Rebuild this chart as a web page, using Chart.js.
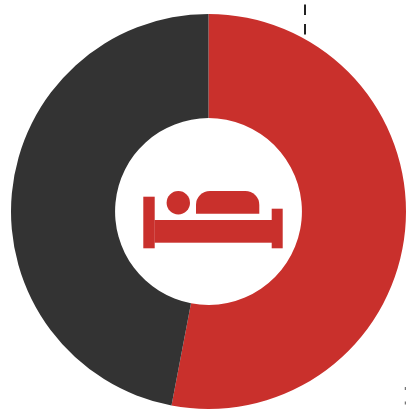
<!DOCTYPE html>
<html>
<head>
<meta charset="utf-8">
<style>
html, body { margin: 0; padding: 0; background: #fff; }
#wrap { position: relative; width: 406px; height: 410px; }
</style>
<script src="https://cdn.jsdelivr.net/npm/chart.js@4/dist/chart.umd.min.js"></script>
</head>
<body>
<div id="wrap"><canvas id="chart" width="406" height="410"></canvas></div>
<script>
const categories = ['Occupied', 'Vacant'];
const shares = [53, 47];
const sliceColours = ['#c9302c', '#333333'];
const iconColour = '#c9302c';

// Bed pictogram, drawn relative to the centre of the ring.
const bedIcon = {
  id: 'bedIcon',
  afterDatasetsDraw(chart) {
    const arc = chart.getDatasetMeta(0).data[0];
    const { x: cx, y: cy } = arc.getProps(['x', 'y'], true);
    const c = chart.ctx;
    c.save();
    c.translate(cx, cy);
    c.fillStyle = iconColour;
    c.fillRect(-65.2, -14.8, 11.4, 51.6);
    c.fillRect(63.2, -2.8, 11, 39.6);
    c.fillRect(-54, 8.5, 117.5, 22.7);
    c.beginPath();
    c.arc(-30.2, -8.8, 11.7, 0, Math.PI * 2);
    c.fill();
    c.beginPath();
    c.roundRect(-12.5, -20.5, 63.3, 22.7, [14, 14, 0, 0]);
    c.fill();
    c.restore();
  }
};

// Fragments of the dashed leader lines that run past the ring.
const leaderDashes = {
  id: 'leaderDashes',
  afterDraw(chart) {
    const c = chart.ctx;
    c.save();
    c.lineWidth = 2;
    c.strokeStyle = '#222222';
    c.setLineDash([10.5, 9]);
    c.beginPath();
    c.moveTo(305, 4.5);
    c.lineTo(305, 35);
    c.stroke();
    c.lineWidth = 1.5;
    c.strokeStyle = '#777777';
    c.setLineDash([3, 11.5]);
    c.beginPath();
    c.moveTo(405.5, 387);
    c.lineTo(405.5, 410);
    c.stroke();
    c.restore();
  }
};

new Chart(document.getElementById('chart'), {
  type: 'doughnut',
  data: {
    labels: categories,
    datasets: [{
      data: shares,
      backgroundColor: sliceColours,
      borderWidth: 0
    }]
  },
  options: {
    responsive: false,
    animation: false,
    cutout: '47.3%',
    layout: { padding: { left: 11, right: 0, top: 14, bottom: 1 } },
    plugins: { legend: { display: false }, tooltip: { enabled: false } }
  },
  plugins: [bedIcon, leaderDashes]
});
</script>
</body>
</html>
